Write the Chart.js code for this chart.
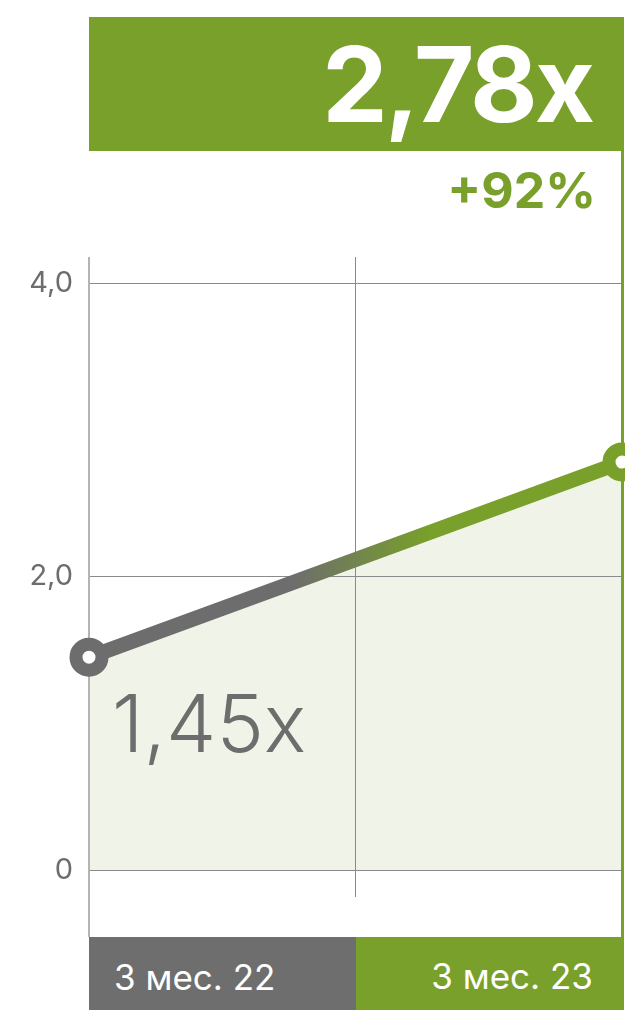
<!DOCTYPE html>
<html><head><meta charset="utf-8">
<script src="https://cdn.jsdelivr.net/npm/chart.js@4.4.1/dist/chart.umd.min.js"></script>
<style>
html,body{margin:0;padding:0;background:#fff;}
#wrap{position:relative;width:625px;height:1010px;overflow:hidden;font-family:Inter,"Noto Sans",sans-serif;}
canvas{position:absolute;left:0;top:0;}
.abs{position:absolute;white-space:nowrap;}
</style></head><body>
<div id="wrap">
<canvas id="c" width="625" height="1010"></canvas>
<div class="abs" style="left:89px;top:17px;width:533px;height:134px;background:#78a02a"></div>
<div class="abs" id="big" style="right:33px;top:32px;font-size:104px;line-height:104px;font-weight:700;color:#fff;letter-spacing:-3px;">2,78x</div>
<div class="abs" id="pct" style="right:29px;top:165px;font-size:50px;line-height:50px;font-weight:700;color:#78a02a;">+92%</div>
<div class="abs" id="start" style="left:112px;top:683px;font-size:80px;line-height:80px;font-weight:300;color:#6d6d6d;">1,45x</div>
<div class="abs" style="left:89px;top:937px;width:267px;height:73px;background:#6e6e6e"></div>
<div class="abs" style="left:356px;top:937px;width:266px;height:73px;background:#78a02a"></div>
<div class="abs" id="cat0" style="left:114px;top:960px;font-size:35px;line-height:35px;color:#fff;"></div>
<div class="abs" id="cat1" style="right:32px;top:959px;font-size:35px;line-height:35px;color:#fff;"></div>
</div>
<script>
const categories = ['3 мес. 22', '3 мес. 23'];
const values = [1.45, 2.78];
const tickValues = [0, 2, 4];
const tickLabels = ['0', '2,0', '4,0'];

const GRAY = '#6d6d6d';
const GREEN = '#78a02a';

document.getElementById('cat0').textContent = categories[0];
document.getElementById('cat1').textContent = categories[1];

const deco = {
  id: 'deco',
  beforeDatasetsDraw(chart) {
    const c = chart.ctx, a = chart.chartArea;
    const xr = chart.scales.x.getPixelForValue(1);
    c.save();
    c.fillStyle = GREEN;
    c.fillRect(xr - 1, 17, 3, 1010 - 17);
    c.fillStyle = '#b4b4b4';
    c.fillRect(a.left - 1, a.top, 2, 937 - a.top);
    c.restore();
  }
};

new Chart(document.getElementById('c'), {
  type: 'line',
  data: {
    datasets: [{
      data: values.map((v, i) => ({x: i, y: v})),
      borderWidth: 15,
      borderColor: (ctx) => {
        const ca = ctx.chart.chartArea;
        if (!ca) return GRAY;
        const g = ctx.chart.ctx.createLinearGradient(ca.left, 0, ca.right, 0);
        g.addColorStop(0, GRAY);
        g.addColorStop(0.38, GRAY);
        g.addColorStop(0.64, GREEN);
        g.addColorStop(1, GREEN);
        return g;
      },
      fill: 'origin',
      backgroundColor: '#f0f4e8',
      pointRadius: 13,
      pointHoverRadius: 13,
      pointBorderWidth: 13,
      pointHoverBorderWidth: 13,
      pointBackgroundColor: '#fff',
      pointBorderColor: [GRAY, GREEN],
      clip: false,
      tension: 0
    }]
  },
  options: {
    responsive: false,
    animation: false,
    devicePixelRatio: 1,
    layout: {autoPadding: false, padding: {left: 0, right: 3, top: 257, bottom: 113}},
    plugins: {
      legend: {display: false},
      tooltip: {enabled: false},
      filler: {drawTime: 'beforeDraw'}
    },
    events: [],
    scales: {
      x: {
        type: 'linear', min: 0, max: 1,
        afterBuildTicks: (s) => { s.ticks = [{value: 0.5}]; },
        afterFit: (s) => { s.height = 0; },
        ticks: {display: false},
        grid: {color: '#8a8a8a', lineWidth: 1, drawTicks: false},
        border: {display: false}
      },
      y: {
        min: -27 / 146.75, max: 4 + 26 / 146.75,
        afterBuildTicks: (s) => { s.ticks = tickValues.map(v => ({value: v})); },
        afterFit: (s) => { s.width = 89; },
        ticks: {
          color: '#6d6d6d',
          font: {family: 'Inter', size: 29, weight: 400},
          padding: 16,
          callback: (v) => tickLabels[tickValues.indexOf(v)]
        },
        grid: {color: '#8a8a8a', lineWidth: 1, drawTicks: false},
        border: {display: false}
      }
    }
  },
  plugins: [deco]
});
</script>
</body></html>
